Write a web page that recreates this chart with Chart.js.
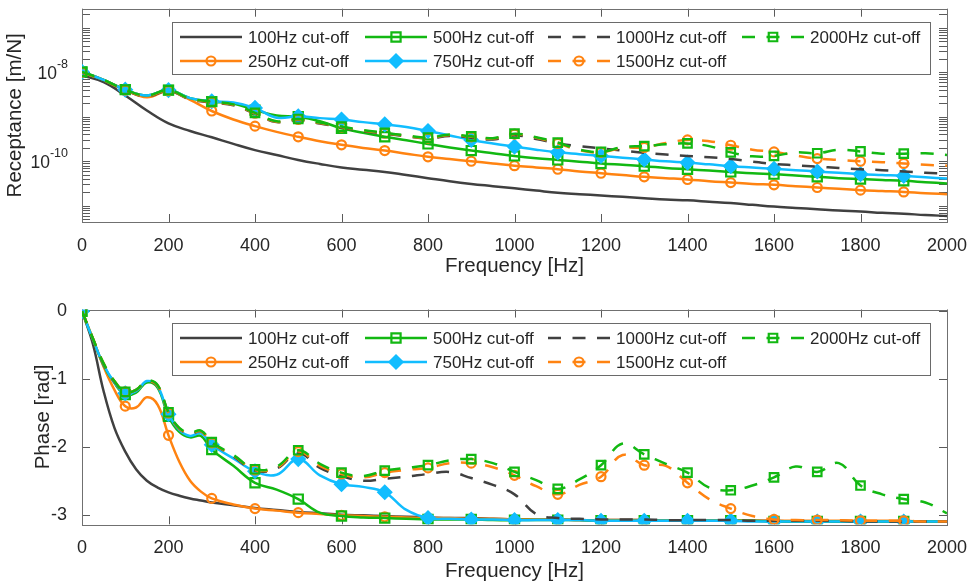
<!DOCTYPE html>
<html>
<head>
<meta charset="utf-8">
<script src="https://cdn.jsdelivr.net/npm/chart.js@4.4.0/dist/chart.umd.min.js"></script>
<style>
  body { margin: 0; background: #fff; }
  #top { position: absolute; left: 0; top: 0; width: 973px; height: 290px; }
  #bot { position: absolute; left: 0; top: 290px; width: 973px; height: 296px; }
</style>
</head>
<body>
<div id="top"><canvas id="recChart"></canvas></div>
<div id="bot"><canvas id="phaseChart"></canvas></div>
<script>
// frequency grids [Hz]
var freqTop = [0,50,100,150,200,250,300,350,400,450,500,550,600,650,700,750,800,850,900,950,
  1000,1050,1100,1150,1200,1250,1300,1350,1400,1450,1500,1550,1600,1650,1700,1750,1800,1850,1900,1950,2000];
var freqBottom = [0,25,50,75,100,125,150,175,200,225,250,275,300,350,400,450,500,550,600,650,700,750,800,850,900,950,
  1000,1050,1100,1150,1200,1250,1300,1350,1400,1450,1500,1550,1600,1650,1700,1750,1800,1850,1900,1950,2000];

// receptance, log10 of [m/N] (on freqTop)
var rec100 = [-8.07,-8.22,-8.52,-8.86,-9.15,-9.32,-9.46,-9.61,-9.75,-9.86,-9.97,-10.06,-10.14,-10.19,-10.24,-10.31,-10.38,-10.45,-10.51,-10.56,
  -10.61,-10.66,-10.71,-10.74,-10.77,-10.80,-10.83,-10.86,-10.88,-10.91,-10.94,-10.98,-11.02,-11.05,-11.08,-11.11,-11.13,-11.16,-11.18,-11.21,-11.23];
var rec250 = [-7.99,-8.17,-8.39,-8.56,-8.42,-8.62,-8.87,-9.06,-9.21,-9.34,-9.45,-9.55,-9.63,-9.70,-9.76,-9.83,-9.90,-9.95,-10.00,-10.05,
  -10.10,-10.14,-10.18,-10.23,-10.27,-10.31,-10.35,-10.38,-10.41,-10.45,-10.48,-10.51,-10.53,-10.56,-10.59,-10.62,-10.65,-10.67,-10.69,-10.72,-10.74];
var rec500 = [-7.99,-8.17,-8.39,-8.52,-8.40,-8.58,-8.66,-8.70,-8.85,-8.97,-9.00,-9.10,-9.26,-9.36,-9.45,-9.53,-9.61,-9.69,-9.76,-9.82,
  -9.88,-9.93,-9.97,-10.01,-10.05,-10.08,-10.11,-10.15,-10.18,-10.21,-10.24,-10.27,-10.29,-10.32,-10.35,-10.38,-10.40,-10.42,-10.44,-10.47,-10.50];
var rec750 = [-7.99,-8.17,-8.39,-8.52,-8.40,-8.58,-8.65,-8.68,-8.80,-9.02,-8.99,-9.03,-9.06,-9.12,-9.17,-9.23,-9.32,-9.42,-9.52,-9.60,
  -9.67,-9.74,-9.80,-9.84,-9.88,-9.92,-9.96,-10.00,-10.03,-10.07,-10.11,-10.14,-10.17,-10.20,-10.23,-10.26,-10.29,-10.31,-10.33,-10.36,-10.39];
var rec1000 = [-8.01,-8.19,-8.41,-8.54,-8.42,-8.61,-8.68,-8.74,-8.93,-9.12,-9.07,-9.15,-9.24,-9.32,-9.38,-9.44,-9.49,-9.43,-9.47,-9.51,
  -9.42,-9.50,-9.60,-9.66,-9.71,-9.76,-9.81,-9.85,-9.88,-9.91,-9.95,-10.01,-10.06,-10.09,-10.12,-10.15,-10.18,-10.20,-10.23,-10.26,-10.28];
var rec1500 = [-8.00,-8.18,-8.40,-8.53,-8.41,-8.60,-8.67,-8.73,-8.92,-9.11,-9.06,-9.14,-9.23,-9.31,-9.37,-9.43,-9.48,-9.41,-9.45,-9.49,
  -9.39,-9.47,-9.60,-9.75,-9.80,-9.70,-9.69,-9.59,-9.52,-9.55,-9.64,-9.74,-9.79,-9.87,-9.94,-9.97,-10.00,-10.02,-10.05,-10.08,-10.10];
var rec2000 = [-7.99,-8.17,-8.39,-8.52,-8.40,-8.59,-8.66,-8.72,-8.91,-9.10,-9.05,-9.13,-9.22,-9.30,-9.36,-9.42,-9.47,-9.40,-9.44,-9.48,
  -9.38,-9.46,-9.58,-9.74,-9.79,-9.68,-9.66,-9.62,-9.60,-9.66,-9.80,-9.89,-9.88,-9.80,-9.82,-9.74,-9.78,-9.83,-9.83,-9.82,-9.86];

// phase [rad] (on freqBottom)
var ph100 = [0,-0.48,-1.18,-1.72,-2.07,-2.33,-2.50,-2.60,-2.67,-2.72,-2.76,-2.79,-2.82,
  -2.86,-2.90,-2.93,-2.96,-2.98,-3.00,-3.01,-3.02,-3.03,-3.04,-3.05,-3.05,-3.06,-3.07,-3.07,-3.07,-3.08,-3.08,-3.08,-3.08,
  -3.09,-3.09,-3.09,-3.09,-3.09,-3.09,-3.10,-3.10,-3.10,-3.10,-3.10,-3.10,-3.10,-3.10];
var ph250 = [0,-0.40,-0.82,-1.16,-1.40,-1.42,-1.27,-1.38,-1.83,-2.22,-2.50,-2.66,-2.76,
  -2.85,-2.91,-2.94,-2.97,-2.99,-3.01,-3.02,-3.03,-3.04,-3.05,-3.05,-3.06,-3.06,-3.07,-3.07,-3.07,-3.08,-3.08,-3.08,-3.08,
  -3.09,-3.09,-3.09,-3.09,-3.09,-3.09,-3.09,-3.09,-3.09,-3.09,-3.09,-3.09,-3.10,-3.10];
var ph500 = [0,-0.41,-0.80,-1.06,-1.23,-1.20,-1.05,-1.13,-1.55,-1.78,-1.86,-1.84,-2.04,
  -2.28,-2.53,-2.63,-2.77,-2.97,-3.02,-3.04,-3.05,-3.06,-3.07,-3.07,-3.07,-3.08,-3.08,-3.08,-3.08,-3.08,-3.09,-3.09,-3.09,
  -3.09,-3.09,-3.09,-3.09,-3.09,-3.10,-3.10,-3.10,-3.10,-3.10,-3.10,-3.10,-3.10,-3.10];
var ph750 = [0,-0.41,-0.79,-1.05,-1.21,-1.18,-1.03,-1.11,-1.52,-1.75,-1.84,-1.80,-1.97,
  -2.17,-2.36,-2.41,-2.18,-2.42,-2.55,-2.59,-2.67,-2.93,-3.05,-3.06,-3.07,-3.07,-3.08,-3.08,-3.08,-3.08,-3.09,-3.09,-3.09,
  -3.09,-3.09,-3.09,-3.09,-3.10,-3.10,-3.10,-3.10,-3.10,-3.10,-3.10,-3.10,-3.10,-3.10];
var ph1000 = [0,-0.40,-0.78,-1.04,-1.19,-1.16,-1.03,-1.10,-1.50,-1.73,-1.81,-1.77,-1.94,
  -2.14,-2.35,-2.32,-2.09,-2.31,-2.43,-2.50,-2.47,-2.44,-2.40,-2.37,-2.46,-2.56,-2.70,-2.99,-3.05,-3.06,-3.07,-3.07,-3.07,
  -3.08,-3.08,-3.08,-3.08,-3.09,-3.09,-3.09,-3.09,-3.09,-3.10,-3.10,-3.10,-3.10,-3.10];
var ph1500 = [0,-0.40,-0.77,-1.03,-1.19,-1.16,-1.03,-1.10,-1.50,-1.73,-1.80,-1.77,-1.94,
  -2.13,-2.34,-2.31,-2.07,-2.28,-2.40,-2.45,-2.38,-2.34,-2.31,-2.24,-2.24,-2.30,-2.42,-2.58,-2.70,-2.56,-2.44,-2.12,-2.27,
  -2.28,-2.53,-2.77,-2.91,-3.02,-3.07,-3.08,-3.08,-3.08,-3.09,-3.09,-3.09,-3.10,-3.10];
var ph2000 = [0,-0.40,-0.77,-1.03,-1.19,-1.16,-1.02,-1.09,-1.49,-1.72,-1.79,-1.76,-1.93,
  -2.12,-2.33,-2.29,-2.05,-2.25,-2.38,-2.43,-2.35,-2.31,-2.27,-2.20,-2.18,-2.24,-2.37,-2.49,-2.62,-2.48,-2.27,-1.95,-2.11,
  -2.25,-2.38,-2.60,-2.64,-2.57,-2.45,-2.29,-2.37,-2.24,-2.57,-2.70,-2.77,-2.82,-2.98];

var seriesLabels = ['100Hz cut-off', '250Hz cut-off', '500Hz cut-off', '750Hz cut-off',
  '1000Hz cut-off', '1500Hz cut-off', '2000Hz cut-off'];

// tick values
var freqTicks = [0, 200, 400, 600, 800, 1000, 1200, 1400, 1600, 1800, 2000];
var phaseTicks = [0, -1, -2, -3];
var recDecades = [1e-11, 1e-10, 1e-9, 1e-8, 1e-7];
var recLabelled = [1e-8, 1e-10];

var recMin = 4.3e-12, recMax = 2.7e-7;
var phaseMin = -3.1416, phaseMax = 0.025;

// line / marker looks, one per series
var dashed = [13, 11.5];
var styles = [
  { color: '#404040', dash: [], marker: null },
  { color: '#FF8311', dash: [], marker: 'circle', r: 4.5 },
  { color: '#12B812', dash: [], marker: 'rect', r: 6.5 },
  { color: '#11BDFF', dash: [], marker: 'rectRot', r: 6.5, fill: true },
  { color: '#404040', dash: dashed, marker: null },
  { color: '#FF8311', dash: dashed, marker: 'circle', r: 4.5 },
  { color: '#12B812', dash: dashed, marker: 'rect', r: 6 }
];

// legend columns (dataset indices) and column offsets from plot left edge
var legendCols = [[0, 1], [2, 3], [4, 5], [6]];
var legendColX = [98, 283, 466, 660];

var FONT = '"Liberation Sans", Arial, Helvetica, sans-serif';
var TEXT = '#262626';
Chart.defaults.font.family = FONT;
Chart.defaults.color = TEXT;

function makeDatasets(freqs, seriesValues) {
  return seriesValues.map(function (vals, i) {
    var s = styles[i];
    return {
      label: seriesLabels[i],
      data: freqs.map(function (f, k) { return { x: f, y: vals[k] }; }),
      borderColor: s.color,
      borderWidth: 2.5,
      borderDash: s.dash,
      tension: 0.4,
      fill: false,
      pointStyle: s.marker || 'circle',
      pointRadius: function (ctx) {
        var f = freqs[ctx.dataIndex];
        return (s.marker && f % 100 === 0 && f < 2000) ? s.r : 0;
      },
      pointHoverRadius: 0,
      pointBorderColor: s.color,
      pointBorderWidth: 2.2,
      pointBackgroundColor: s.fill ? s.color : 'rgba(0,0,0,0)',
      order: 10 - i
    };
  });
}

function drawMarker(ctx, s, x, y) {
  ctx.beginPath();
  if (s.marker === 'circle') {
    ctx.arc(x, y, s.r, 0, Math.PI * 2);
  } else if (s.marker === 'rect') {
    var h = s.r * Math.SQRT1_2;
    ctx.rect(x - h, y - h, 2 * h, 2 * h);
  } else {
    ctx.moveTo(x, y - s.r); ctx.lineTo(x + s.r, y);
    ctx.lineTo(x, y + s.r); ctx.lineTo(x - s.r, y);
    ctx.closePath();
  }
  if (s.fill) { ctx.fillStyle = s.color; ctx.fill(); }
  ctx.strokeStyle = s.color;
  ctx.lineWidth = 2.2;
  ctx.setLineDash([]);
  ctx.stroke();
}

// box round the plot area with inward ticks on all four sides
var axesBox = {
  id: 'axesBox',
  beforeDatasetsDraw: function (chart) {
    var ctx = chart.ctx, a = chart.chartArea, sx = chart.scales.x, sy = chart.scales.y;
    var tl = 8;
    ctx.save();
    ctx.strokeStyle = '#5a5a5a';
    ctx.lineWidth = 1;
    ctx.beginPath();
    sx.ticks.forEach(function (t) {
      var px = Math.round(sx.getPixelForValue(t.value)) + 0.5;
      ctx.moveTo(px, a.bottom); ctx.lineTo(px, a.bottom - tl);
      ctx.moveTo(px, a.top); ctx.lineTo(px, a.top + tl);
    });
    sy.ticks.forEach(function (t) {
      var py = Math.round(sy.getPixelForValue(t.value)) + 0.5;
      ctx.moveTo(a.left, py); ctx.lineTo(a.left + tl, py);
      ctx.moveTo(a.right, py); ctx.lineTo(a.right - tl, py);
    });
    ctx.stroke();
    ctx.strokeStyle = '#707070';
    ctx.strokeRect(Math.round(a.left) + 0.5, Math.round(a.top) + 0.5,
      Math.round(a.right - a.left), Math.round(a.bottom - a.top));
    ctx.restore();
  }
};

// legend with line + marker samples, inside the plot
var lineLegend = {
  id: 'lineLegend',
  afterDraw: function (chart) {
    var ctx = chart.ctx, a = chart.chartArea;
    var bx = Math.round(a.left) + 90, by = Math.round(a.top) + 13, bw = 758, bh = 52;
    ctx.save();
    ctx.fillStyle = '#fff';
    ctx.fillRect(bx, by, bw, bh);
    ctx.strokeStyle = '#6a6a6a';
    ctx.lineWidth = 1;
    ctx.strokeRect(bx + 0.5, by + 0.5, bw, bh);
    ctx.font = '17px ' + FONT;
    ctx.textBaseline = 'middle';
    legendCols.forEach(function (col, ci) {
      col.forEach(function (di, ri) {
        var s = styles[di];
        var x0 = a.left + legendColX[ci], y = by + 15 + ri * 24;
        ctx.strokeStyle = s.color;
        ctx.lineWidth = 2.5;
        ctx.setLineDash(s.dash);
        ctx.beginPath(); ctx.moveTo(x0, y); ctx.lineTo(x0 + 62, y); ctx.stroke();
        if (s.marker) drawMarker(ctx, s, x0 + 31, y);
        ctx.fillStyle = TEXT;
        ctx.fillText(seriesLabels[di], x0 + 68, y + 1);
      });
    });
    ctx.restore();
  }
};

// 10^n labels for the logarithmic axis
var powerLabels = {
  id: 'powerLabels',
  afterDraw: function (chart) {
    var ctx = chart.ctx, a = chart.chartArea, sy = chart.scales.y;
    ctx.save();
    ctx.fillStyle = TEXT;
    ctx.textAlign = 'right';
    ctx.textBaseline = 'middle';
    recLabelled.forEach(function (v) {
      var py = sy.getPixelForValue(v);
      var exp = String(Math.round(Math.log10(v)));
      var right = a.left - 14;
      ctx.font = '12.5px ' + FONT;
      var ew = ctx.measureText(exp).width;
      ctx.fillText(exp, right, py - 8);
      ctx.font = '17.5px ' + FONT;
      ctx.fillText('10', right - ew, py + 2);
    });
    ctx.restore();
  }
};

function xScale(height, titlePad) {
  return {
    type: 'linear', min: 0, max: 2000,
    grid: { display: false }, border: { display: false },
    afterBuildTicks: function (s) { s.ticks = freqTicks.map(function (v) { return { value: v }; }); },
    afterFit: function (s) { s.height = height; },
    ticks: { autoSkip: false, maxRotation: 0, padding: 5, font: { size: 18 }, color: TEXT,
      callback: function (v) { return String(v); } },
    title: { display: true, text: 'Frequency [Hz]', font: { size: 20.5 }, color: TEXT, padding: { top: 0, bottom: titlePad } }
  };
}

var recValues = [rec100, rec250, rec500, rec750, rec1000, rec1500, rec2000].map(function (arr) {
  return arr.map(function (e) { return Math.pow(10, e); });
});

new Chart(document.getElementById('recChart'), {
  type: 'line',
  data: { datasets: makeDatasets(freqTop, recValues) },
  options: {
    responsive: true, maintainAspectRatio: false, animation: false,
    layout: { padding: { left: 0, right: 26, top: 8, bottom: 0 } },
    plugins: { legend: { display: false }, tooltip: { enabled: false } },
    scales: {
      x: xScale(68, 11),
      y: {
        type: 'logarithmic', min: recMin, max: recMax,
        grid: { display: false }, border: { display: false },
        afterBuildTicks: function (s) {
          var t = [];
          recDecades.concat([1e-12]).forEach(function (d) {
            for (var m = 1; m < 10; m++) {
              var v = d * m;
              if (v >= recMin && v <= recMax) t.push({ value: v });
            }
          });
          s.ticks = t;
        },
        afterFit: function (s) { s.width = 82; },
        ticks: { display: false },
        title: { display: true, text: 'Receptance [m/N]', font: { size: 20.5 }, color: TEXT, padding: { top: 2.7, bottom: 0 } }
      }
    }
  },
  plugins: [axesBox, lineLegend, powerLabels]
});

new Chart(document.getElementById('phaseChart'), {
  type: 'line',
  data: { datasets: makeDatasets(freqBottom, [ph100, ph250, ph500, ph750, ph1000, ph1500, ph2000]) },
  options: {
    responsive: true, maintainAspectRatio: false, animation: false,
    layout: { padding: { left: 0, right: 26, top: 19.5, bottom: 0 } },
    plugins: { legend: { display: false }, tooltip: { enabled: false } },
    scales: {
      x: xScale(61.7, 2),
      y: {
        type: 'linear', min: phaseMin, max: phaseMax,
        grid: { display: false }, border: { display: false },
        afterBuildTicks: function (s) { s.ticks = phaseTicks.map(function (v) { return { value: v }; }); },
        afterFit: function (s) { s.width = 82; },
        ticks: { padding: 7, font: { size: 18 }, color: TEXT, callback: function (v) { return String(v); } },
        title: { display: true, text: 'Phase [rad]', font: { size: 20.5 }, color: TEXT, padding: { top: 30.7, bottom: 0 } }
      }
    }
  },
  plugins: [axesBox, lineLegend]
});
</script>
</body>
</html>
